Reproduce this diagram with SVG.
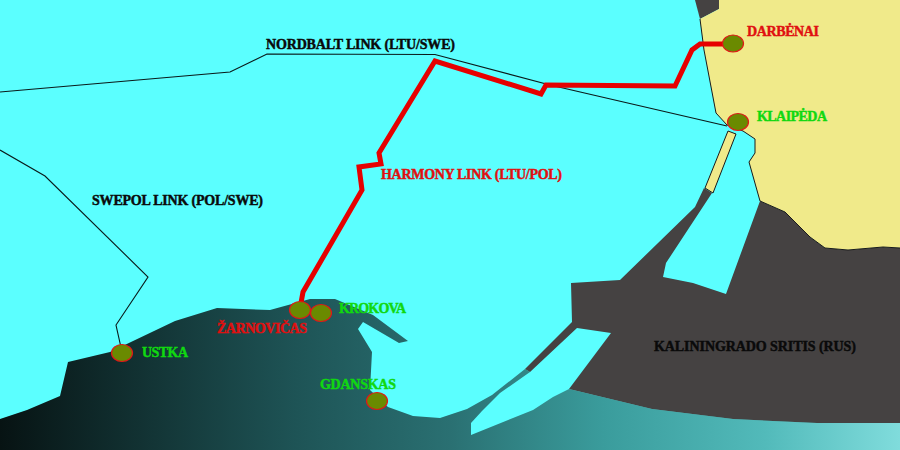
<svg xmlns="http://www.w3.org/2000/svg" width="900" height="450" viewBox="0 0 900 450">
<defs>
<linearGradient id="sea" gradientUnits="userSpaceOnUse" x1="0" y1="0" x2="900" y2="0">
<stop offset="0" stop-color="#071313"/><stop offset="0.33" stop-color="#1e5456"/><stop offset="0.5" stop-color="#2a7072"/><stop offset="0.67" stop-color="#3a9c9c"/><stop offset="0.85" stop-color="#52baba"/><stop offset="1" stop-color="#80dcdc"/>
</linearGradient>
</defs>
<style>
.lbl{font-family:"Liberation Serif","DejaVu Serif",serif;font-weight:bold;font-size:14px;stroke-width:.45px}
.red{fill:#e01010;stroke:#e01010}
.grn{fill:#10d810;stroke:#10d810}
.blk{fill:#0a0a0a;stroke:#0a0a0a}
.city{fill:#6a8a00;stroke:#e01818;stroke-width:1.2}
.cable{fill:none;stroke:#0a1a1a;stroke-width:1.1}
</style>
<rect width="900" height="450" fill="#5bffff"/>
<g id="land">
<polygon points="0,419 27,410 60,396 68,362 110,352 175,321 217,308 270,310 310,299 335,299 373,315 408,341 399,343 363,322 358,329 372,352 370,390 388,407 413,416 440,418 467,409 492,395 525,369 530,372 500,393 482,411 471,423 471,435 533,410 553,397 569,389 652,409 733,419 817,423 900,423 900,450 0,450" fill="url(#sea)"/>
<polygon points="571,283 620,280 695,207 704,188 712,193 666,263 663,277 693,283 726,294 760,201 785,212 810,237 825,248 848,250 883,247 900,248 900,423 817,423 733,419 652,409 569,389 611,333 577,328 530,372 525,369 572,322" fill="#454242"/>
<polygon points="695,0 719,0 719,9 700,19" fill="#454242"/>
<polygon points="719,0 900,0 900,248 883,247 848,250 825,248 810,237 785,212 760,201 749,162 755,153 755,139 743,131 727,125 716,113 704,50 700,19 719,9" fill="#f0ea8a"/>
<polyline points="700,19 704,50 716,113 727,125 743,131 755,139 755,153 749,162 760,201 785,212 810,237 825,248 848,250 883,247 900,248" fill="none" stroke="#1a1a1a" stroke-width="1"/>
<polygon points="728,131 736,134 713,193 705,188" fill="#f0ea8a" stroke="#1a1a1a" stroke-width="1"/>
</g>
<g id="connectors">
<polyline id="nordbalt" class="cable" points="0,92 230,72 267,54 435,54.500 550,85 727,126"/>
<polyline id="swepol" class="cable" points="0,150 45,176 148,277 116,325 122,352"/>
<polyline id="harmony" fill="none" stroke="#e60000" stroke-width="5" points="301,303 303,292 362,190 359,167 381,164 379,153 435,61 541,94 546,85 675,86 692,50 700,44 733,44"/>
</g>
<g id="darbenai"><ellipse class="city" cx="733" cy="43.500" rx="10.500" ry="8.500"/><text class="lbl red" x="747" y="36" textLength="72">DARBĖNAI</text></g>
<g id="klaipeda"><ellipse class="city" cx="738" cy="122" rx="10.500" ry="8.500"/><text class="lbl grn" x="757" y="121" textLength="70">KLAIPĖDA</text></g>
<g id="krokova"><ellipse class="city" cx="321" cy="313" rx="10.500" ry="8.500"/><text class="lbl grn" x="339" y="313" textLength="67">KROKOVA</text></g>
<g id="zarnovicas"><ellipse class="city" cx="300" cy="310" rx="10.500" ry="8.500"/><text class="lbl red" x="217" y="333" textLength="90">ŽARNOVIČAS</text></g>
<g id="ustka"><ellipse class="city" cx="122" cy="353" rx="10.500" ry="8.500"/><text class="lbl grn" x="142" y="357" textLength="46">USTKA</text></g>
<g id="gdanskas"><ellipse class="city" cx="377" cy="401" rx="10.500" ry="8.500"/><text class="lbl grn" x="320" y="389" textLength="76">GDANSKAS</text></g>
<g id="labels">
<text class="lbl blk" x="266" y="49" textLength="189">NORDBALT LINK (LTU/SWE)</text>
<text class="lbl red" x="381" y="179" textLength="181">HARMONY LINK (LTU/POL)</text>
<text class="lbl blk" x="92" y="205" textLength="171">SWEPOL LINK (POL/SWE)</text>
<text class="lbl blk" x="654" y="351" textLength="202">KALININGRADO SRITIS (RUS)</text>
</g>
</svg>
